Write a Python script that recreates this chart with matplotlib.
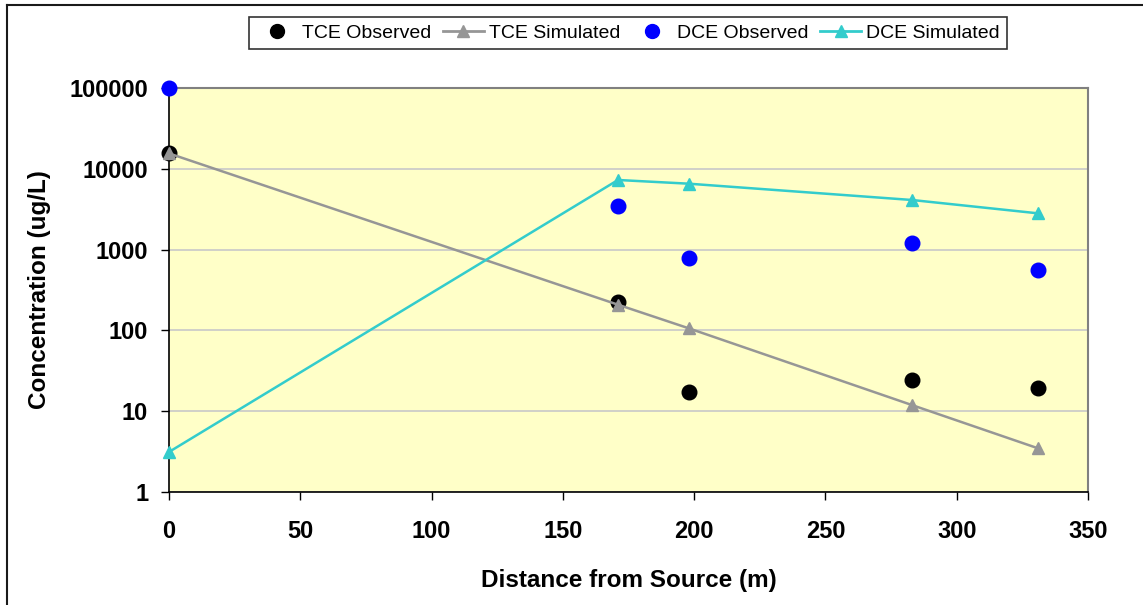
import matplotlib
matplotlib.use("Agg")
import matplotlib.pyplot as plt
from matplotlib.lines import Line2D

plt.rcParams['font.family'] = ['Liberation Sans', 'DejaVu Sans']

# Sampling distances (m) and concentrations (ug/L)
distance = [0, 171, 198, 283, 331]
tce_observed = [15700, 224, 17.3, 24.5, 19.2]
tce_simulated = [15500, 208, 106, 11.9, 3.47]
dce_observed = [100000, 3470, 790, 1200, 560]
dce_simulated = [3.13, 7270, 6540, 4110, 2810]

x_ticks = [0, 50, 100, 150, 200, 250, 300, 350]
y_ticks = [1, 10, 100, 1000, 10000, 100000]
y_tick_labels = ['1', '10', '100', '1000', '10000', '100000']

GRAY = '#969696'
TEAL = '#33CCCC'
BLUE = '#0000FF'

fig = plt.figure(figsize=(11.43, 6.05), dpi=100)
ax = fig.add_axes([169 / 1143, 1 - 492 / 605, (1088 - 169) / 1143, (492 - 88) / 605])
ax.set_facecolor('#FFFFC8')

ax.plot(distance, tce_simulated, color=GRAY, lw=1.8, marker='^', ms=8,
        mec=GRAY, mfc=GRAY, zorder=3, clip_on=False)
ax.plot(distance, dce_simulated, color=TEAL, lw=1.8, marker='^', ms=8,
        mec=TEAL, mfc=TEAL, zorder=3, clip_on=False)
ax.plot(distance, tce_observed, ls='none', marker='o', ms=10.5, color='black',
        zorder=2, clip_on=False)
ax.plot(distance, dce_observed, ls='none', marker='o', ms=10.5, color=BLUE,
        zorder=4, clip_on=False)

ax.set_yscale('log')
ax.set_xlim(0, 350)
ax.set_ylim(1, 100000)
ax.set_xticks(x_ticks)
ax.set_xticklabels([str(t) for t in x_ticks])
ax.set_yticks(y_ticks)
ax.set_yticklabels(y_tick_labels)
ax.minorticks_off()
ax.yaxis.grid(True, color='#C8C8C8', lw=1.2)
ax.set_axisbelow(True)

ax.tick_params(axis='both', direction='out', length=6, width=1, color='black',
               labelsize=17)
ax.tick_params(axis='x', pad=14)
ax.tick_params(axis='y', pad=9)
for lbl in ax.get_xticklabels() + ax.get_yticklabels():
    lbl.set_fontweight('bold')

for side in ('top', 'right'):
    ax.spines[side].set_color('#808080')
    ax.spines[side].set_linewidth(1.5)
for side in ('left', 'bottom'):
    ax.spines[side].set_color('black')
    ax.spines[side].set_linewidth(1.2)

ax.set_xlabel('Distance from Source (m)', fontsize=17.5, fontweight='bold', labelpad=19)
ax.set_ylabel('Concentration (ug/L)', fontsize=17.5, fontweight='bold', labelpad=13)

handles = [
    Line2D([], [], ls='none', marker='o', ms=10, color='black'),
    Line2D([], [], color=GRAY, lw=2, marker='^', ms=8),
    Line2D([], [], ls='none', marker='o', ms=10, color=BLUE),
    Line2D([], [], color=TEAL, lw=2, marker='^', ms=8),
]
labels = ['TCE Observed', 'TCE Simulated', 'DCE Observed', 'DCE Simulated']
leg = fig.legend(handles, labels, loc='center', bbox_to_anchor=(628 / 1143, 1 - 33 / 605),
                 ncol=4, frameon=True, fancybox=False, fontsize=14,
                 handlelength=2.1, handletextpad=0.25, columnspacing=0.6,
                 borderpad=0.35, edgecolor='black')
leg.get_frame().set_linewidth(1.2)

# Chart border
fig.add_artist(Line2D([7 / 1143, 1], [1 - 5 / 605, 1 - 5 / 605], color='#1a1a1a', lw=1.5,
                      transform=fig.transFigure))
fig.add_artist(Line2D([7 / 1143, 7 / 1143], [0, 1 - 5 / 605], color='#1a1a1a', lw=1.5,
                      transform=fig.transFigure))

fig.savefig('out.png', dpi=100)
